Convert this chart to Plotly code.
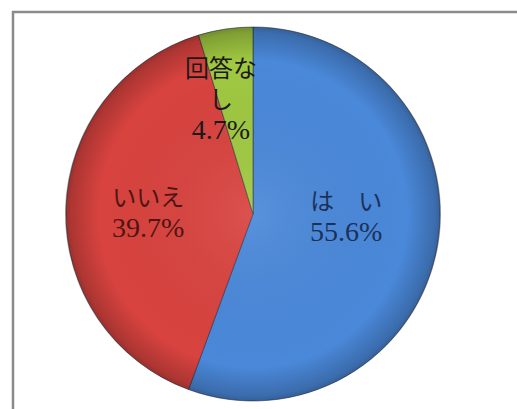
import base64
import plotly.graph_objects as go

# Survey answers (share of respondents, %)
labels = ["はい", "いいえ", "回答なし"]
label_text = ["は　い", "いいえ", "回答な<br>し"]
values = [55.6, 39.7, 4.7]
slice_colors = ["#4a88d9", "#d8433f", "#a0c841"]
text_colors = ["#1c3158", "#4e1512", "#1a1a1a"]
# label block centres in pixels (x, y from top)
label_px = [(346, 218), (148, 214), (221, 100)]

W, H = 517, 409
FONT = "Liberation Serif, 'Noto Sans CJK JP', serif"

fig = go.Figure(
    go.Pie(
        labels=labels,
        values=values,
        sort=False,
        direction="clockwise",
        rotation=0,
        textinfo="none",
        hoverinfo="label+percent",
        marker=dict(colors=slice_colors, line=dict(color="rgba(40,40,60,0.55)", width=1)),
        domain=dict(x=[65 / W, 441 / W], y=[(H - 401) / H, (H - 27) / H]),
        showlegend=False,
    )
)

# soft radial shading over the pie
svg = (
    '<svg xmlns="http://www.w3.org/2000/svg" width="200" height="200">'
    '<defs><radialGradient id="g" cx="50%" cy="50%" r="50%">'
    '<stop offset="0%" stop-color="white" stop-opacity="0.08"/>'
    '<stop offset="82%" stop-color="black" stop-opacity="0.0"/>'
    '<stop offset="97%" stop-color="black" stop-opacity="0.20"/>'
    '<stop offset="100%" stop-color="black" stop-opacity="0.30"/>'
    '</radialGradient></defs>'
    '<circle cx="100" cy="100" r="100" fill="url(#g)"/></svg>'
)
src = "data:image/svg+xml;base64," + base64.b64encode(svg.encode()).decode()
fig.add_layout_image(
    source=src, xref="paper", yref="paper",
    x=65 / W, y=(H - 27) / H, sizex=376 / W, sizey=374 / H,
    xanchor="left", yanchor="top", sizing="stretch", layer="above",
)

for txt, v, col, (px, py) in zip(label_text, values, text_colors, label_px):
    fig.add_annotation(
        x=px / W, y=(H - py) / H, xref="paper", yref="paper",
        text=f"{txt}<br><span style='font-size:28px'>{v:.1f}%</span>",
        showarrow=False,
        font=dict(family=FONT, size=24, color=col),
        align="center", xanchor="center", yanchor="middle",
    )

# chart frame
fig.add_shape(
    type="rect", xref="paper", yref="paper",
    x0=13 / W, x1=(W + 20) / W, y0=-20 / H, y1=(H - 12) / H,
    line=dict(color="#8a8a8a", width=2.5), fillcolor="rgba(0,0,0,0)",
)

fig.update_layout(
    width=W, height=H,
    margin=dict(l=0, r=0, t=0, b=0),
    paper_bgcolor="white", plot_bgcolor="white",
)

fig.write_html("out.html")
